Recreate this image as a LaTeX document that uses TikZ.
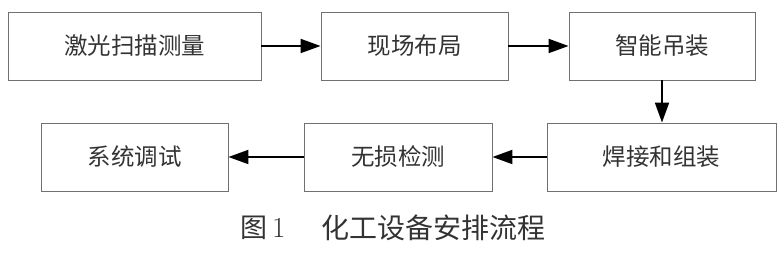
\documentclass[tikz,border=0pt]{standalone}
\usepackage{fontspec}
\newfontfamily\cjk{Noto Sans CJK SC}
\usetikzlibrary{arrows.meta}
\definecolor{boxline}{HTML}{707070}
\definecolor{txt}{HTML}{333333}
\tikzset{
  box/.style={draw=boxline, line width=0.9pt, minimum height=68pt, inner sep=0pt,
    font=\cjk\fontsize{23.5}{25}\selectfont, text=txt},
  flow/.style={draw=black, line width=2pt, -{Triangle[length=20pt,width=14pt]}},
  captext/.style={inner sep=0pt, text=txt, anchor=west}
}
\begin{document}
\begin{tikzpicture}[x=1pt,y=-1pt]
\useasboundingbox (0,0) rectangle (784,253);
\node[box, minimum width=253pt] (a) at (134.5,46) {激光扫描测量};
\node[box, minimum width=187pt] (b) at (414.5,46) {现场布局};
\node[box, minimum width=186pt] (c) at (662,46) {智能吊装};
\node[box, minimum width=229pt] (f) at (661.5,157) {焊接和组装};
\node[box, minimum width=188pt] (e) at (398,157) {无损检测};
\node[box, minimum width=187pt] (d) at (134.5,157) {系统调试};
\draw[flow] (a) -- (b);
\draw[flow] (b) -- (c);
\draw[flow] (c.south) -- (c.south |- f.north);
\draw[flow] (f) -- (e);
\draw[flow] (e) -- (d);
\node[captext] (t1) at (240,228) {{\cjk\fontsize{27}{29}\selectfont 图}\fontsize{29}{31}\selectfont\,1};
\node[captext, font=\cjk\fontsize{28}{30}\selectfont] (t2) at (321,228) {化工设备安排流程};
\end{tikzpicture}
\end{document}
